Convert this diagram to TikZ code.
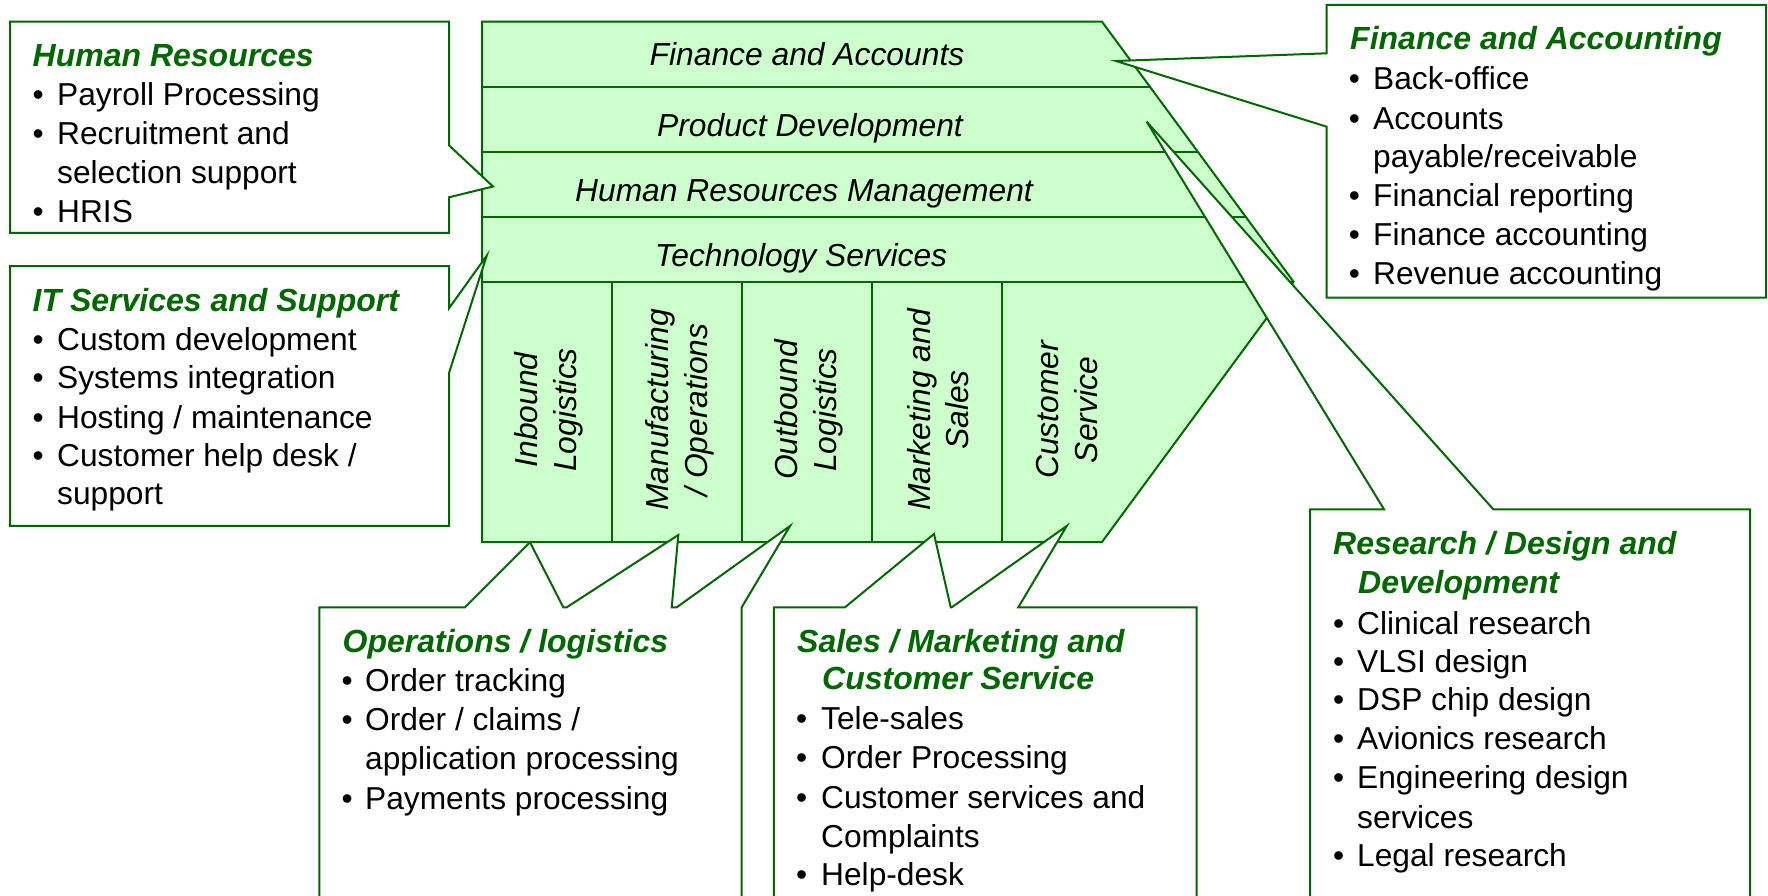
\documentclass[tikz,border=0pt]{standalone}
\usepackage{fontspec}
\setmainfont{Liberation Sans}
\definecolor{lgreen}{HTML}{CCFFCC}
\definecolor{dgreen}{RGB}{0,102,0}
\tikzset{
  edge/.style={draw=dgreen, line width=2pt, line join=miter},
  callout/.style={draw=dgreen, line width=2pt, fill=white, line join=miter},
  txt/.style={inner sep=0pt, anchor=base west, font=\fontsize{31.7}{38.8}\selectfont},
  ttl/.style={inner sep=0pt, anchor=base west, text=dgreen, font=\fontsize{32}{38.8}\selectfont\bfseries\itshape},
  rowtxt/.style={inner sep=0pt, anchor=base, font=\fontsize{31.8}{38.8}\selectfont\itshape},
  coltxt/.style={inner sep=0pt, rotate=90, align=center, font=\fontsize{31.8}{38.5}\selectfont\itshape},
}
% bullet item: name, bullet x, text x, baseline y, text
\newcommand\bitem[5]{\node[txt] (#1b) at (#2,#4) {•}; \node[txt] (#1) at (#3,#4) {#5};}
\newcommand\citem[4]{\node[txt] (#1) at (#2,#3) {#4};}
\begin{document}
\begin{tikzpicture}[x=1pt,y=-1pt]
\useasboundingbox (0,0) rectangle (1768,896);
\clip (0,0) rectangle (1768,896);
% main value chain shape
\coordinate (tl) at (482,21.7);
\coordinate (tr) at (1102,21.7);
\coordinate (tip) at (1293.5,281.7);
\coordinate (br) at (1102,542);
\coordinate (bl) at (482,542);
\fill[lgreen] (tl)--(tr)--(tip)--(br)--(bl)--cycle;
\begin{scope}
  \clip (tl)--(tr)--(tip)--(br)--(bl)--cycle;
  \foreach \yy in {86.7,151.7,216.7,281.7} \draw[edge] (470,\yy)--(1400,\yy);
  \foreach \xx in {612,742,872.3,1002.3} \draw[edge] (\xx,281.7)--(\xx,560);
\end{scope}
\draw[edge] (tl)--(tr)--(tip)--(br)--(bl)--cycle;

% callouts
\draw[callout] (10,21.7)--(449,21.7)--(449,145.3)--(493,186.5)--(449,197.3)--(449,232.8)--(10,232.8)--cycle;
\draw[callout] (10,266)--(449,266)--(449,308.3)--(486.7,255.7)--(449,373)--(449,525.8)--(10,525.8)--cycle;
\draw[callout] (1326.7,5)--(1766,5)--(1766,297.7)--(1326.7,297.7)--(1326.7,126.7)--(1116,61)--(1326.7,53.3)--cycle;
\draw[callout] (1310,910)--(1310,509.3)--(1384,509.3)--(1146.7,121.7)--(1493.3,509.3)--(1750,509.3)--(1750,910)--cycle;
\draw[callout] (319.4,910)--(319.4,607.3)--(465,607.3)--(530,542.3)--(563.3,607.3)--(566.7,607.3)--(678.3,535)--(671.7,607.3)--(676.7,607.3)--(790,526)--(741.7,607.3)--(741.7,910)--cycle;
\draw[callout] (773.8,910)--(773.8,607.3)--(845,607.3)--(934,534)--(950.7,607.3)--(951.7,607.3)--(1066.7,526)--(1018.3,607.3)--(1196.7,607.3)--(1196.7,910)--cycle;

% support activities
\node[rowtxt] (fa) at (807,65.5) {Finance and Accounts};
\node[rowtxt] (pd) at (810,137) {Product Development};
\node[rowtxt] (hrm) at (804,201.5) {Human Resources Management};
\node[rowtxt] (ts) at (801,266.5) {Technology Services};
% primary activities
\node[coltxt] (c1) at (549,410) {Inbound\\Logistics};
\node[coltxt] (c2) at (680,410) {Manufacturing\\/ Operations};
\node[coltxt] (c3) at (809,410) {Outbound\\Logistics};
\node[coltxt] (c4) at (938,410) {Marketing and\\Sales};
\node[coltxt] (c5) at (1067,410) {Customer\\Service};

\begin{scope}[shift={(2,1.5)}]
% Human Resources
\node[ttl] (hrt) at (30.5,65.4) {Human Resources};
\bitem{hr1}{30.5}{55}{104}{Payroll Processing}
\bitem{hr2}{30.5}{55}{143}{Recruitment and}
\citem{hr3}{55}{181.8}{selection support}
\bitem{hr4}{30.5}{55}{221}{HRIS}
% IT
\node[ttl] (itt) at (30.5,310) {IT Services and Support};
\bitem{it1}{30.5}{55}{348.5}{Custom development}
\bitem{it2}{30.5}{55}{387.4}{Systems integration}
\bitem{it3}{30.5}{55}{427}{Hosting / maintenance}
\bitem{it4}{30.5}{55}{464.9}{Customer help desk /}
\citem{it5}{55}{503.4}{support}
% Finance
\node[ttl] (fat) at (1348,48.3) {Finance and Accounting};
\bitem{fa1}{1346.7}{1371}{88.3}{Back-office}
\bitem{fa2}{1346.7}{1371}{127.7}{Accounts}
\citem{fa3}{1371}{165.7}{payable/receivable}
\bitem{fa4}{1346.7}{1371}{205}{Financial reporting}
\bitem{fa5}{1346.7}{1371}{244.3}{Finance accounting}
\bitem{fa6}{1346.7}{1371}{283.3}{Revenue accounting}
% R&D
\node[ttl] (rdt) at (1331,553.3) {Research / Design and};
\node[ttl] (rdt2) at (1356,591.7) {Development};
\bitem{rd1}{1331}{1355}{632.7}{Clinical research}
\bitem{rd2}{1331}{1355}{671}{VLSI design}
\bitem{rd3}{1331}{1355}{709.3}{DSP chip design}
\bitem{rd4}{1331}{1355}{748.3}{Avionics research}
\bitem{rd5}{1331}{1355}{786.7}{Engineering design}
\citem{rd6}{1355}{826.7}{services}
\bitem{rd7}{1331}{1355}{865}{Legal research}
% Operations
\node[ttl] (opt) at (340.5,650.7) {Operations / logistics};
\bitem{op1}{339.5}{363}{690}{Order tracking}
\bitem{op2}{339.5}{363}{729.3}{Order / claims /}
\citem{op3}{363}{768.3}{application processing}
\bitem{op4}{339.5}{363}{807.7}{Payments processing}
% Sales
\node[ttl] (sat) at (795,650.7) {Sales / Marketing and};
\node[ttl] (sat2) at (820,688.3) {Customer Service};
\bitem{sa1}{794}{819}{728.3}{Tele-sales}
\bitem{sa2}{794}{819}{767.3}{Order Processing}
\bitem{sa3}{794}{819}{806.7}{Customer services and}
\citem{sa4}{819}{845.7}{Complaints}
\bitem{sa5}{794}{819}{884}{Help-desk}
\end{scope}
\end{tikzpicture}
\end{document}
